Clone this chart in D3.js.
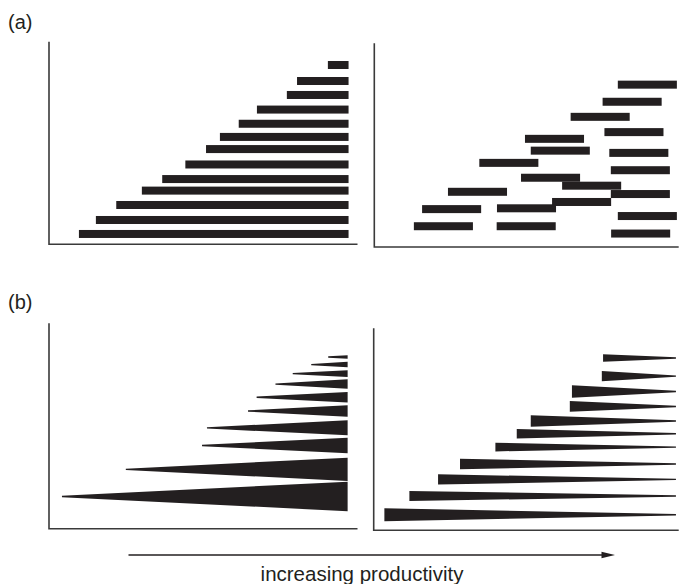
<!DOCTYPE html>
<html>
<head>
<meta charset="utf-8">
<script src="https://cdn.jsdelivr.net/npm/d3@7"></script>
<style>
  body { margin: 0; background: #fff; }
  svg { display: block; }
  text { font-family: "Liberation Sans", Arial, sans-serif; fill: #231f20; }
</style>
</head>
<body>
<svg id="chart" width="679" height="584"></svg>
<script>
// (a) left - bars all ending at the same productivity, start varies
const aLeftStart = [90.4, 80.4, 77.1, 67.4, 61.5, 55.4, 50.9, 44.2, 36.7, 30.1, 21.8, 15.2, 9.7];
const aLeftY     = [88.5, 80.6, 73.7, 66.5, 59.5, 53.0, 47.0, 39.4, 32.2, 26.5, 19.4, 12.0, 5.1];
const aLeftEnd = 97.1;

// (a) right - bars of equal length, scattered
const aRightStart = [80.0, 75.0, 64.5, 75.6, 49.5, 51.4, 77.2, 34.5, 77.7, 48.2,
                     61.7, 24.2, 77.7, 58.4, 15.7, 40.3, 80.0, 13.0, 40.2, 77.8];
const aRightY     = [79.7, 71.3, 63.9, 56.4, 53.1, 47.3, 46.2, 41.3, 37.7, 34.0,
                     30.1, 27.1, 26.0, 22.1, 18.6, 19.0, 15.2, 10.2, 10.2, 6.6];
const aRightLength = 19.4;

// (b) left - wedges widening towards high productivity
const bLeftTip    = [90.5, 85.0, 79.0, 73.4, 67.3, 64.5, 51.2, 49.6, 24.9, 4.2];
const bLeftY      = [83.6, 79.9, 75.5, 70.4, 64.0, 57.3, 49.1, 40.5, 28.9, 15.7];
const bLeftSpread = [1.7, 2.7, 3.3, 4.6, 5.2, 5.6, 7.3, 7.6, 11.3, 14.4];
const bLeftBase = 96.8;

// (b) right - wedges narrowing towards high productivity
const bRightBase   = [75.2, 74.8, 65.0, 64.3, 51.5, 46.9, 39.9, 28.3, 21.1, 11.7, 3.5];
const bRightY      = [85.3, 76.3, 68.7, 61.3, 54.1, 47.8, 41.2, 32.8, 25.2, 17.0, 7.7];
const bRightSpread = [3.7, 5.1, 6.1, 5.3, 5.6, 4.6, 4.3, 5.2, 5.0, 5.0, 6.4];
const bRightTip = 99.1;

const ink = '#231f20';
const axisColor = '#3a3a3a';
const barH = 8;

const svg = d3.select('#chart');

function makePanel(x0, x1, yBottom, yTop) {
  const x = d3.scaleLinear().domain([0, 100]).range([x0, x1]);
  const y = d3.scaleLinear().domain([0, 100]).range([yBottom, yTop]);
  const g = svg.append('g');
  // L-shaped axes, no ticks
  g.append('path')
    .attr('d', `M${x0},${yTop}V${yBottom}H${x1}`)
    .attr('fill', 'none')
    .attr('stroke', axisColor)
    .attr('stroke-width', 1.6);
  return { x, y, g };
}

// panel (a) left
const pA1 = makePanel(49, 357.5, 244.3, 41.7);
pA1.g.selectAll('rect')
  .data(aLeftStart)
  .enter().append('rect')
  .attr('x', d => pA1.x(d))
  .attr('y', (d, i) => pA1.y(aLeftY[i]) - barH / 2)
  .attr('width', d => pA1.x(aLeftEnd) - pA1.x(d))
  .attr('height', barH)
  .attr('fill', ink);

// panel (a) right
const pA2 = makePanel(374.3, 678.7, 247, 43.3);
pA2.g.selectAll('rect')
  .data(aRightStart)
  .enter().append('rect')
  .attr('x', d => pA2.x(d))
  .attr('y', (d, i) => pA2.y(aRightY[i]) - barH / 2)
  .attr('width', d => pA2.x(d + aRightLength) - pA2.x(d))
  .attr('height', barH)
  .attr('fill', ink);

// wedge: thin end at xThin, wide end at xWide
function wedge(p, xThin, xWide, yc, spread) {
  const cy = p.y(yc);
  const h = (p.y(0) - p.y(spread)) / 2;
  const t = 0.7;
  return `M${p.x(xThin)},${cy - t}L${p.x(xWide)},${cy - h}L${p.x(xWide)},${cy + h}L${p.x(xThin)},${cy + t}Z`;
}

// panel (b) left
const pB1 = makePanel(49, 357.5, 528.7, 323.3);
pB1.g.selectAll('path.w')
  .data(bLeftTip)
  .enter().append('path')
  .attr('class', 'w')
  .attr('d', (d, i) => wedge(pB1, d, bLeftBase, bLeftY[i], bLeftSpread[i]))
  .attr('fill', ink);

// panel (b) right
const pB2 = makePanel(373.7, 678.7, 530.3, 328.3);
pB2.g.selectAll('path.w')
  .data(bRightBase)
  .enter().append('path')
  .attr('class', 'w')
  .attr('d', (d, i) => wedge(pB2, bRightTip, d, bRightY[i], bRightSpread[i]))
  .attr('fill', ink);

// panel labels
svg.append('text').attr('x', 8).attr('y', 28.5).attr('font-size', 20).text('(a)');
svg.append('text').attr('x', 8).attr('y', 309).attr('font-size', 20).text('(b)');

// productivity arrow
svg.append('line')
  .attr('x1', 128.5).attr('x2', 603)
  .attr('y1', 555).attr('y2', 555)
  .attr('stroke', ink)
  .attr('stroke-width', 1.3);
svg.append('path')
  .attr('d', 'M601.5,551.7L615,555L601.5,558.3Z')
  .attr('fill', ink);

svg.append('text')
  .attr('x', 362).attr('y', 581)
  .attr('text-anchor', 'middle')
  .attr('font-size', 20.5)
  .text('increasing productivity');
</script>
</body>
</html>
